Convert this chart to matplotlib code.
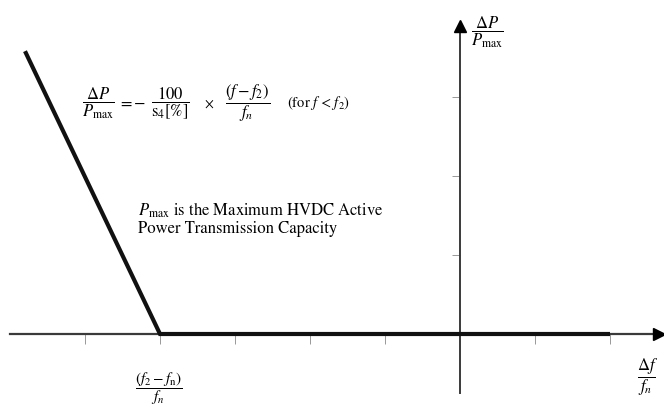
import matplotlib
matplotlib.use("Agg")
import matplotlib.pyplot as plt

# ---- data ----
line_x = [-5.8, -4.0, 2.0]      # droop characteristic (in tick units of df/fn)
line_y = [3.58, 0.0, 0.0]       # dP/Pmax
x_ticks = [-5, -4, -3, -2, -1, 1, 2]
y_ticks = [1, 2, 3]

plt.rcParams['mathtext.fontset'] = 'stix'
plt.rcParams['font.family'] = ['STIXGeneral', 'DejaVu Serif']

W, H = 664, 412
fig = plt.figure(figsize=(W / 100, H / 100), dpi=100)
ax = fig.add_axes([0, 0, 1, 1])

# pixel mapping: x=0 at px 460, 75 px per unit; y=0 at py 334, 79 px per unit
X0, XU, Y0, YU = 460, 75, 334, 79
ax.set_xlim((0 - X0) / XU, (W - X0) / XU)
ax.set_ylim((Y0 - H) / YU, Y0 / YU)

axis_col = '#3a3a3a'
for s in ['top', 'right']:
    ax.spines[s].set_visible(False)
ax.spines['left'].set_position(('data', 0))
ax.spines['bottom'].set_position(('data', 0))
ax.spines['left'].set_bounds((Y0 - 393) / YU, (Y0 - 24) / YU)
ax.spines['bottom'].set_bounds((10 - X0) / XU, (656 - X0) / XU)
ax.spines['left'].set_color(axis_col)
ax.spines['bottom'].set_color(axis_col)
ax.spines['left'].set_linewidth(1.4)
ax.spines['bottom'].set_linewidth(1.6)

ax.set_xticks(x_ticks)
ax.set_yticks(y_ticks)
ax.tick_params(axis='x', direction='out', length=7, width=0.6, color='#888888',
               labelbottom=False)
ax.tick_params(axis='y', direction='out', length=6, width=0.6, color='#888888',
               labelleft=False)

# arrow heads
ax.plot([(W - 5) / XU - X0 / XU], [0], marker='>', markersize=9, color='black',
        clip_on=False, zorder=5)
ax.plot([0], [(Y0 - 26) / YU], marker='^', markersize=9, color='black',
        clip_on=False, zorder=5)

# characteristic
ax.plot(line_x, line_y, color='#111111', lw=3.0, solid_joinstyle='miter',
        solid_capstyle='butt', zorder=4)

def ftxt(px, py, s, **kw):
    fig.text(px / W, 1 - py / H, s, **kw)

fs = 12
ftxt(98, 103, r'$\dfrac{\Delta P}{P_{\mathrm{max}}}$', ha='center', va='center', fontsize=fs)
ftxt(125, 103, r'$=$', ha='center', va='center', fontsize=fs)
ftxt(139, 103, r'$-$', ha='center', va='center', fontsize=fs)
ftxt(170, 103, r'$\dfrac{\mathit{100}}{\mathrm{s}_4[\%]}$', ha='center', va='center', fontsize=fs)
ftxt(209, 104, r'$\times$', ha='center', va='center', fontsize=10)
ftxt(248, 103, r'$\dfrac{(f-f_2)}{f_n}$', ha='center', va='center', fontsize=fs)
ftxt(287, 103, r'(for $f$ < $f_2$)', ha='left', va='center', fontsize=10.5)

ftxt(138, 210, r'$P_{\mathrm{max}}$ is the Maximum HVDC Active', ha='left', va='center', fontsize=12)
ftxt(138, 229, 'Power Transmission Capacity', ha='left', va='center', fontsize=12)

ftxt(487, 32, r'$\dfrac{\Delta P}{P_{\mathrm{max}}}$', ha='center', va='center', fontsize=fs)
ftxt(648, 377, r'$\dfrac{\Delta f}{f_n}$', ha='center', va='center', fontsize=fs)
ftxt(159, 389, r'$\dfrac{(f_2-f_{\mathrm{n}})}{f_n}$', ha='center', va='center', fontsize=11)

fig.savefig('out.png', dpi=100)
